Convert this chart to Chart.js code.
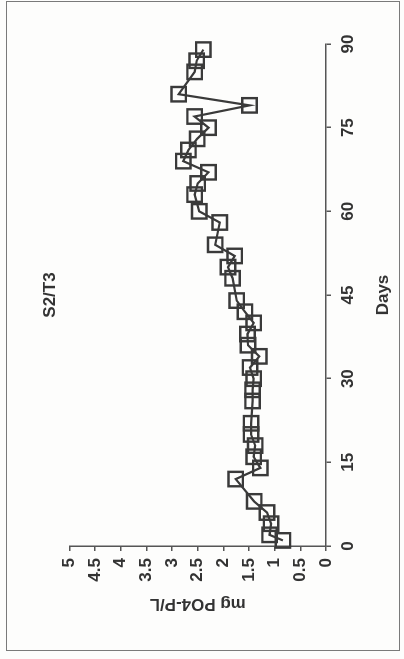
<!DOCTYPE html>
<html>
<head>
<meta charset="utf-8">
<script src="https://cdn.jsdelivr.net/npm/chart.js@4/dist/chart.umd.min.js"></script>
<style>
  html, body { margin: 0; padding: 0; background: #fdfdfc; }
  body { width: 404px; height: 659px; position: relative; overflow: hidden; }
  #frame {
    position: absolute; left: 6px; top: 1px; width: 394px; height: 650px;
    border: 1.5px solid #7a7a7a; box-sizing: border-box;
  }
  /* the chart is laid out landscape and turned a quarter turn anticlockwise */
  #turn {
    position: absolute; left: 0; top: 0; width: 659px; height: 404px;
    transform-origin: 0 0; transform: translateY(659px) rotate(-90deg);
  }
</style>
</head>
<body>
<div id="frame"></div>
<div id="turn"><canvas id="c" width="659" height="404"></canvas></div>
<script>
// sampling days and measured phosphate, mg PO4-P/L
const days = [1, 2, 4, 6, 8, 12, 14, 16, 18, 20, 22, 26, 28, 30, 32, 34, 36, 38, 40, 42,
              44, 48, 50, 52, 54, 58, 60, 63, 65, 67, 69, 71, 73, 75, 77, 79, 81, 85, 87, 89];
const po4 = [0.84, 1.10, 1.07, 1.15, 1.40, 1.76, 1.28, 1.41, 1.38, 1.46, 1.46, 1.43, 1.43, 1.41,
             1.48, 1.30, 1.52, 1.53, 1.41, 1.58, 1.74, 1.82, 1.91, 1.78, 2.16, 2.07, 2.47, 2.56,
             2.50, 2.29, 2.78, 2.68, 2.51, 2.29, 2.56, 1.49, 2.87, 2.56, 2.52, 2.39];
const dayTicks = [0, 15, 30, 45, 60, 75, 90];
const po4Ticks = [0, 0.5, 1, 1.5, 2, 2.5, 3, 3.5, 4, 4.5, 5];
const chartTitle = 'S2/T3';
const xTitle = 'Days';
const yTitle = 'mg PO4-P/L';

Chart.defaults.font.family = "'Liberation Sans', Arial, sans-serif";
Chart.defaults.color = '#333';

const ink = '#3a3a3a';
const labelFont = { size: 17, weight: 'bold' };

new Chart(document.getElementById('c'), {
  type: 'line',
  data: {
    datasets: [{
      data: days.map((d, i) => ({ x: d, y: po4[i] })),
      borderColor: ink,
      borderWidth: 2.2,
      tension: 0,
      clip: false,
      pointStyle: 'rect',
      pointRadius: 10.2,
      pointBorderWidth: 2.4,
      pointBorderColor: ink,
      pointBackgroundColor: 'rgba(0,0,0,0)'
    }]
  },
  options: {
    responsive: false,
    animation: false,
    events: [],
    layout: { padding: { left: 0, right: 44, top: 0, bottom: 0 } },
    plugins: {
      legend: { display: false },
      tooltip: { enabled: false },
      title: {
        display: true, text: chartTitle, fullSize: false,
        color: '#333', font: labelFont,
        padding: { top: 40, bottom: 9 }
      }
    },
    scales: {
      x: {
        type: 'linear', min: 0, max: 90,
        afterBuildTicks: s => { s.ticks = dayTicks.map(v => ({ value: v })); },
        afterFit: s => { s.height = 78; },
        ticks: { color: '#333', font: labelFont, padding: 7, maxRotation: 0, callback: v => String(v) },
        grid: { drawOnChartArea: false, drawTicks: true, tickLength: 5, color: '#555', lineWidth: 1.5 },
        border: { display: true, color: '#555', width: 1.5 },
        title: { display: true, text: xTitle, color: '#333', font: labelFont, padding: { top: 0, bottom: 10 } }
      },
      y: {
        type: 'linear', min: 0, max: 5,
        afterBuildTicks: s => { s.ticks = po4Ticks.map(v => ({ value: v })); },
        afterFit: s => { s.width = 113; },
        ticks: { color: '#333', font: labelFont, padding: 7, callback: v => String(v) },
        grid: { drawOnChartArea: false, drawTicks: true, tickLength: 5, color: '#555', lineWidth: 1.5 },
        border: { display: true, color: '#555', width: 1.5 },
        title: { display: true, text: yTitle, color: '#333', font: labelFont, padding: { top: 45, bottom: 0 } }
      }
    }
  }
});
</script>
</body>
</html>
